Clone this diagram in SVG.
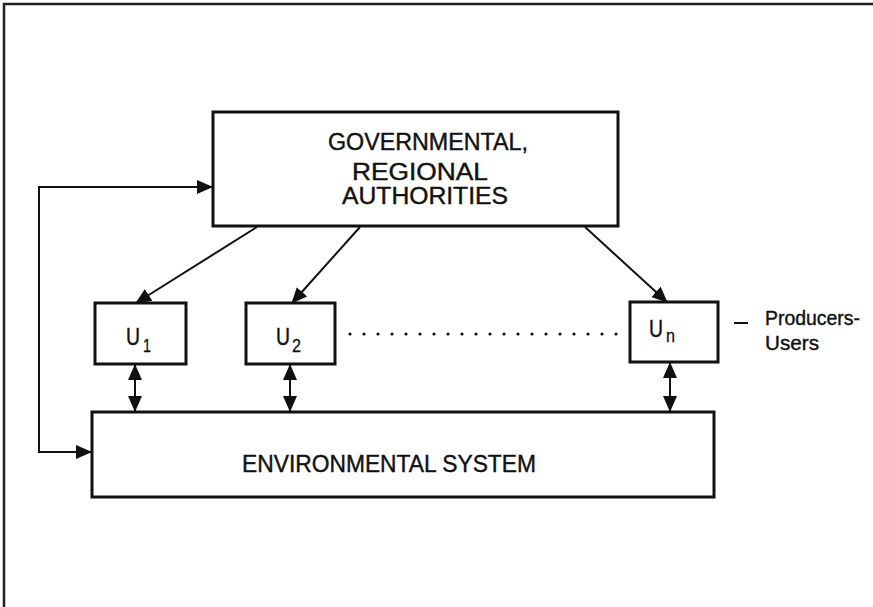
<svg xmlns="http://www.w3.org/2000/svg" width="873" height="607" viewBox="0 0 873 607">
  <style>
    .box { fill: #fff; stroke: #111; stroke-width: 3; }
    .lbl { font-family: "Liberation Sans", Arial, sans-serif; fill: #111; stroke: #111; stroke-width: 0.4; font-size: 23px; }
    .side { font-family: "Liberation Sans", Arial, sans-serif; fill: #111; stroke: #111; stroke-width: 0.4; font-size: 21px; }
    .sub { font-family: "Liberation Sans", Arial, sans-serif; fill: #111; stroke: #111; stroke-width: 0.3; font-size: 19px; }
    .wire { fill: none; stroke: #111; stroke-width: 2; }
    .frame { fill: none; stroke: #222; stroke-width: 2.5; }
  </style>
  <defs>
    <marker id="head" viewBox="0 0 16 14" refX="15" refY="7" markerWidth="16" markerHeight="14" markerUnits="userSpaceOnUse" orient="auto-start-reverse">
      <path d="M0,0 L16,7 L0,14 Z" fill="#111"/>
    </marker>
  </defs>

  <rect width="873" height="607" fill="#fff"/>
  <path class="frame" d="M4,607 V4 H873"/>

  <g id="authorities">
    <rect class="box" x="213" y="112" width="405" height="114"/>
    <text class="lbl" x="328" y="150" textLength="200" lengthAdjust="spacingAndGlyphs">GOVERNMENTAL,</text>
    <text class="lbl" x="352" y="180" textLength="136" lengthAdjust="spacingAndGlyphs">REGIONAL</text>
    <text class="lbl" x="342" y="204" textLength="166" lengthAdjust="spacingAndGlyphs">AUTHORITIES</text>
  </g>

  <g id="u1">
    <rect class="box" x="95" y="303" width="91" height="61"/>
    <text class="lbl" x="126" y="345" textLength="14" lengthAdjust="spacingAndGlyphs">U</text>
    <text class="sub" x="143" y="352" textLength="8" lengthAdjust="spacingAndGlyphs">1</text>
  </g>

  <g id="u2">
    <rect class="box" x="246" y="303" width="89" height="61"/>
    <text class="lbl" x="276" y="345" textLength="14" lengthAdjust="spacingAndGlyphs">U</text>
    <text class="sub" x="292" y="352" textLength="9" lengthAdjust="spacingAndGlyphs">2</text>
  </g>

  <g id="un">
    <rect class="box" x="630" y="302" width="88" height="60"/>
    <text class="lbl" x="649" y="337" textLength="14" lengthAdjust="spacingAndGlyphs">U</text>
    <text class="sub" x="666" y="342" textLength="9" lengthAdjust="spacingAndGlyphs">n</text>
  </g>

  <g id="producers-users">
    <line x1="734" y1="323" x2="748" y2="323" stroke="#111" stroke-width="2"/>
    <text class="side" x="765" y="325" textLength="95" lengthAdjust="spacingAndGlyphs">Producers-</text>
    <text class="side" x="765" y="350" textLength="54" lengthAdjust="spacingAndGlyphs">Users</text>
  </g>

  <g id="environment">
    <rect class="box" x="92" y="412" width="622" height="85"/>
    <text class="lbl" x="242" y="472" textLength="294" lengthAdjust="spacingAndGlyphs">ENVIRONMENTAL SYSTEM</text>
  </g>

  <g id="connectors">
    <line class="wire" x1="257" y1="227" x2="136" y2="303" marker-end="url(#head)"/>
    <line class="wire" x1="360" y1="227" x2="292" y2="303" marker-end="url(#head)"/>
    <line class="wire" x1="585" y1="227" x2="667" y2="302" marker-end="url(#head)"/>
    <line class="wire" x1="135" y1="365" x2="135" y2="411" marker-start="url(#head)" marker-end="url(#head)"/>
    <line class="wire" x1="290" y1="365" x2="290" y2="411" marker-start="url(#head)" marker-end="url(#head)"/>
    <line class="wire" x1="670" y1="363" x2="670" y2="411" marker-start="url(#head)" marker-end="url(#head)"/>
    <path class="wire" d="M91,452 H39 V187 H212" marker-start="url(#head)" marker-end="url(#head)"/>
    <line x1="350" y1="334" x2="617" y2="334" stroke="#111" stroke-width="3.2" stroke-linecap="round" stroke-dasharray="0 14"/>
  </g>
</svg>
